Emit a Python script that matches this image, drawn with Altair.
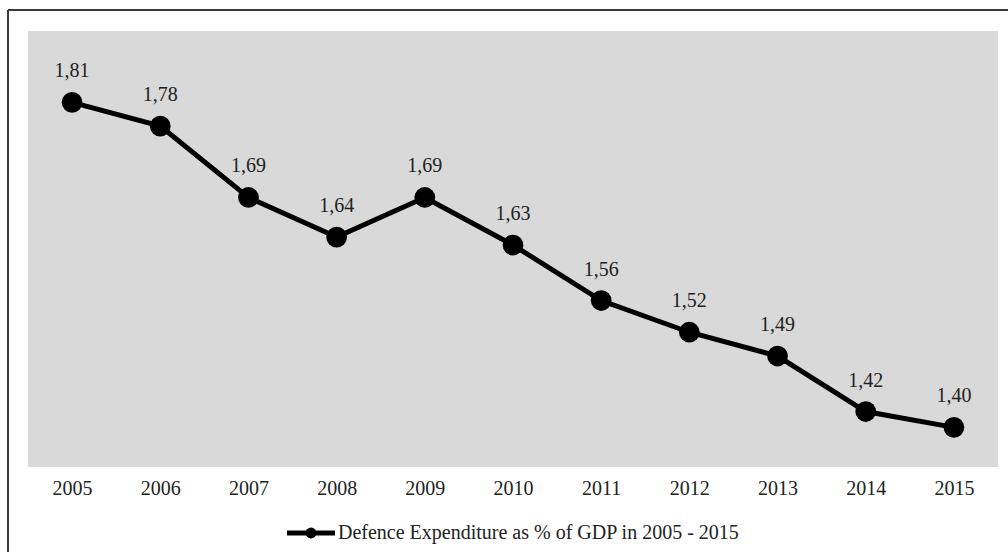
import altair as alt
import pandas as pd

years = ["2005", "2006", "2007", "2008", "2009", "2010", "2011", "2012", "2013", "2014", "2015"]
share_of_gdp = [1.81, 1.78, 1.69, 1.64, 1.69, 1.63, 1.56, 1.52, 1.49, 1.42, 1.40]
series_name = "Defence Expenditure as % of GDP in 2005 - 2015"

df = pd.DataFrame({"year": years, "value": share_of_gdp})
df["label"] = df["value"].map(lambda v: f"{v:.2f}".replace(".", ","))

FONT = "Liberation Serif"
W, H = 970, 436

x_enc = alt.X("year:O", scale=alt.Scale(type="point", padding=0.5),
              axis=alt.Axis(title=None, labelAngle=0, ticks=False, domain=False,
                            labelFont=FONT, labelFontSize=20, labelColor="#222222",
                            labelPadding=11))
y_enc = alt.Y("value:Q", scale=alt.Scale(domain=[1.35, 1.90], zero=False, nice=False),
              axis=None)

base = alt.Chart(df).encode(x=x_enc, y=y_enc)

line = base.mark_line(color="black", strokeWidth=5)
dots = base.mark_circle(color="black", size=430, opacity=1)
labels = base.mark_text(font=FONT, fontSize=20, color="#222222", dy=-31).encode(text="label:N")

# frame around the figure (left and top edges)
frame_top = alt.Chart(df).mark_rule(color="#3a3a3a", strokeWidth=1.5, clip=False).encode(
    x=alt.value(-20), x2=alt.value(990), y=alt.value(-21))
frame_left = alt.Chart(df).mark_rule(color="#3a3a3a", strokeWidth=1.5, clip=False).encode(
    x=alt.value(-20), y=alt.value(-21), y2=alt.value(530))

# legend drawn below the axis
legend_df = pd.DataFrame({"name": [series_name]})
leg_line = alt.Chart(legend_df).mark_rule(color="black", strokeWidth=5, clip=False).encode(
    x=alt.value(259), x2=alt.value(307), y=alt.value(502))
leg_dot = alt.Chart(legend_df).mark_circle(color="black", size=120, opacity=1, clip=False).encode(
    x=alt.value(283), y=alt.value(502))
leg_text = alt.Chart(legend_df).mark_text(font=FONT, fontSize=20, color="#222222",
                                          align="left", baseline="middle", clip=False).encode(
    x=alt.value(310), y=alt.value(502), text="name:N")

chart = alt.layer(line, dots, labels, frame_top, frame_left, leg_line, leg_dot, leg_text).properties(
    width=W, height=H,
    autosize=alt.AutoSizeParams(type="none"),
    padding={"left": 28, "top": 31, "right": 10, "bottom": 85},
    background="white",
).configure_view(fill="#d9d9d9", stroke=None)

chart.save("out.html", embed_options={"renderer": "svg", "actions": False})
